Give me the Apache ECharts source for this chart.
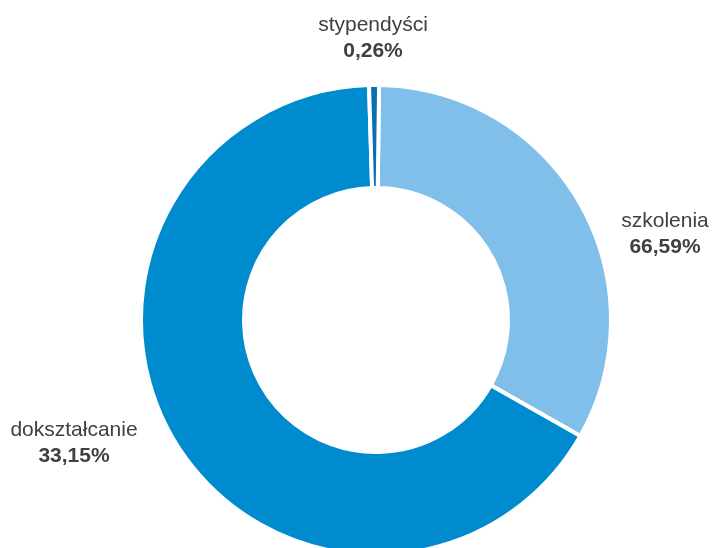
<!DOCTYPE html>
<html>
<head>
<meta charset="utf-8">
<script src="https://cdn.jsdelivr.net/npm/echarts@6/dist/echarts.min.js"></script>
<style>
  html, body { margin: 0; padding: 0; background: #fff; }
  #chart { width: 714px; height: 548px; }
</style>
</head>
<body>
<div id="chart"></div>
<script>
// slice order clockwise from the top
const categories = ['szkolenia', 'dokształcanie', 'stypendyści'];
const sliceValues = [33.15, 66.59, 0.26];
// percentages as printed on the chart labels
const labelTexts = ['66,59%', '33,15%', '0,26%'];
const colors = ['#7fbfe9', '#008bcf', '#0b6db3'];

// where each label block sits (centre)
const labelPos = [[665, 234], [74, 443], [373, 38]];

let myChart = echarts.init(document.getElementById('chart'));

let option = {
  animation: false,
  series: [
    {
      type: 'pie',
      center: [376, 320],
      radius: [132, 235],
      startAngle: 89.25,
      minAngle: 2.45,
      clockwise: true,
      avoidLabelOverlap: false,
      itemStyle: {
        borderColor: '#fff',
        borderWidth: 4
      },
      label: {
        show: true,
        position: 'outside',
        formatter: function (p) {
          return '{n|' + p.name + '}\n{p|' + labelTexts[p.dataIndex] + '}';
        },
        rich: {
          n: {
            fontFamily: 'Liberation Sans, Arial, sans-serif',
            fontSize: 21,
            color: '#404040',
            lineHeight: 26,
            align: 'center'
          },
          p: {
            fontFamily: 'Liberation Sans, Arial, sans-serif',
            fontSize: 21,
            fontWeight: 'bold',
            color: '#404040',
            lineHeight: 26,
            align: 'center'
          }
        }
      },
      labelLine: { show: false },
      labelLayout: function (params) {
        let pos = labelPos[params.dataIndex];
        return {
          x: pos[0],
          y: pos[1],
          align: 'center',
          verticalAlign: 'middle'
        };
      },
      emphasis: { disabled: true },
      data: categories.map(function (c, i) {
        return { name: c, value: sliceValues[i], itemStyle: { color: colors[i] } };
      })
    }
  ]
};

option && myChart.setOption(option);
</script>
</body>
</html>
